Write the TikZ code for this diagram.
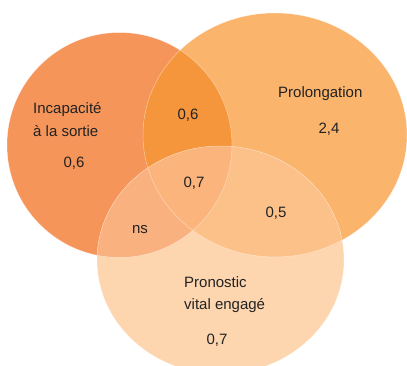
\documentclass[tikz,border=0pt]{standalone}
\usepackage{fontspec}
\setmainfont{Liberation Sans}
\definecolor{cL}{HTML}{F5955A}
\definecolor{cR}{HTML}{FBB46C}
\definecolor{cB}{HTML}{FDD6B0}
\definecolor{cLR}{HTML}{F5963C}
\definecolor{cLB}{HTML}{F9B17F}
\definecolor{cRB}{HTML}{FCC189}
\definecolor{cLRB}{HTML}{FAB47C}
\definecolor{txt}{HTML}{222222}
\begin{document}
\begin{tikzpicture}[x=1pt,y=-1pt,
  lbl/.style={inner sep=0pt,text=txt,font=\fontsize{15}{22.5}\selectfont},
  edge/.style={draw=white,draw opacity=0.45,line width=0.5pt}]
\useasboundingbox (0,0) rectangle (407,365);
\clip (0,0) rectangle (407,365);
\def\shL{(119.5,145) circle [radius=112.5]}
\def\shR{(275,135) ellipse [x radius=132,y radius=122]}
\def\shB{(220.5,260) ellipse [x radius=123.5,y radius=114]}
\fill[cL] \shL;
\fill[cR] \shR;
\fill[cB] \shB;
\begin{scope}\clip \shL; \fill[cLR] \shR; \end{scope}
\begin{scope}\clip \shL; \fill[cLB] \shB; \end{scope}
\begin{scope}\clip \shR; \fill[cRB] \shB; \end{scope}
\begin{scope}\clip \shL; \clip \shR; \fill[cLRB] \shB; \end{scope}
\path[edge] \shL; \path[edge] \shR; \path[edge] \shB;
\node[lbl,anchor=base west,align=left] (tL) at (33,136) {Incapacité\\à la sortie};
\node[lbl,anchor=base] (vL) at (74,167) {0,6};
\node[lbl,anchor=base] (vLR) at (188,119) {0,6};
\node[lbl,anchor=base west] (tR) at (278,97) {Prolongation};
\node[lbl,anchor=base] (vR) at (329,133) {2,4};
\node[lbl,anchor=base] (vLRB) at (194,187) {0,7};
\node[lbl,anchor=base] (vRB) at (276,217) {0,5};
\node[lbl,anchor=base] (vLB) at (140,233) {ns};
\node[lbl,anchor=base west,align=left] (tB) at (184,309.5) {Pronostic\\vital engagé};
\node[lbl,anchor=base] (vB) at (217,344) {0,7};
\end{tikzpicture}
\end{document}
